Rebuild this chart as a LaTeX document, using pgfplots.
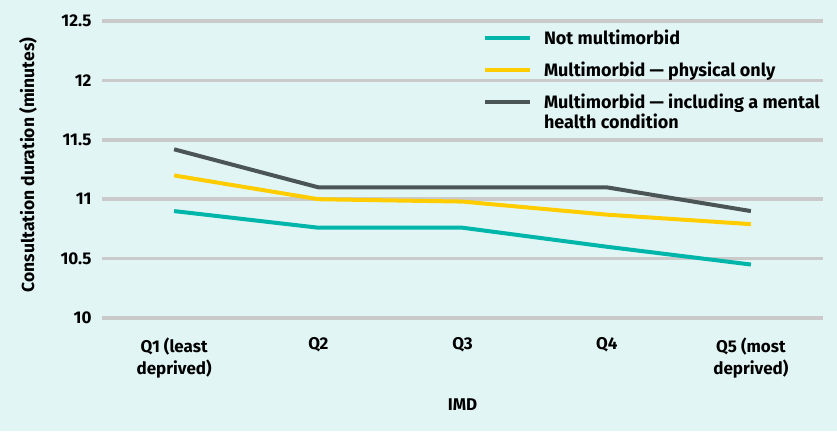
\documentclass[border=0pt]{standalone}
\usepackage{pgfplots}
\pgfplotsset{compat=1.18}
\usepackage{fontspec}
\setmainfont{Fira Sans}
\definecolor{bgcol}{HTML}{E1F6F4}
\definecolor{gridcol}{HTML}{CACACA}
\definecolor{tealc}{HTML}{00B5A9}
\definecolor{yellowc}{HTML}{FFCC00}
\definecolor{darkc}{HTML}{4B5556}
\pgfplotsset{
    leg/.style={legend image code/.code={\draw[##1] (0pt,0pt) -- (45pt,0pt); \path (55pt,0pt);}},
    legup/.style={legend image code/.code={\draw[##1] (0pt,10pt) -- (45pt,10pt); \path (55pt,10pt);}},
}
\begin{document}
\begin{tikzpicture}[x=1pt,y=1pt]
\fill[bgcol] (-102,-113) rectangle (735,318);
\begin{axis}[
    at={(0,0)}, anchor=south west,
    scale only axis,
    width=721pt, height=297pt,
    xmin=-0.5, xmax=4.5,
    ymin=10, ymax=12.5,
    ytick={10,10.5,11,11.5,12,12.5},
    yticklabels={10,10.5,11,11.5,12,12.5},
    xtick={0,1,2,3,4},
    xticklabels={{Q1 (least\\deprived)},Q2,Q3,Q4,{Q5 (most\\deprived)}},
    axis line style={draw=none},
    major tick length=0pt,
    ymajorgrids,
    grid style={gridcol, line width=3.5pt},
    font=\fontsize{17}{22}\selectfont\bfseries,
    tick label style={font=\fontsize{17}{22}\selectfont\bfseries},
    x tick label style={align=center, anchor=north, yshift=-16pt},
    y tick label style={anchor=east, xshift=-7pt},
    xlabel={IMD},
    xlabel style={at={(0.5,-0.293)}, anchor=center},
    ylabel={Consultation duration (minutes)},
    ylabel style={at={(-0.1026,0.515)}, anchor=center, font=\fontsize{17.5}{20}\selectfont\bfseries},
    legend style={draw=none, fill=none, at={(0.524,0.985)}, anchor=north west,
        font=\fontsize{18}{20.5}\selectfont\bfseries, row sep=12pt,
        nodes={align=left}},
    legend cell align=left,
]
\addplot[tealc, line width=4pt, leg] coordinates {(0,10.90) (1,10.76) (2,10.76) (3,10.60) (4,10.45)};
\addlegendentry{Not multimorbid}
\addplot[yellowc, line width=4pt, leg] coordinates {(0,11.20) (1,11.00) (2,10.98) (3,10.87) (4,10.79)};
\addlegendentry{Multimorbid — physical only}
\addplot[darkc, line width=4pt, legup] coordinates {(0,11.42) (1,11.10) (2,11.10) (3,11.10) (4,10.90)};
\addlegendentry{Multimorbid — including a mental\\health condition}
\end{axis}
\end{tikzpicture}
\end{document}
